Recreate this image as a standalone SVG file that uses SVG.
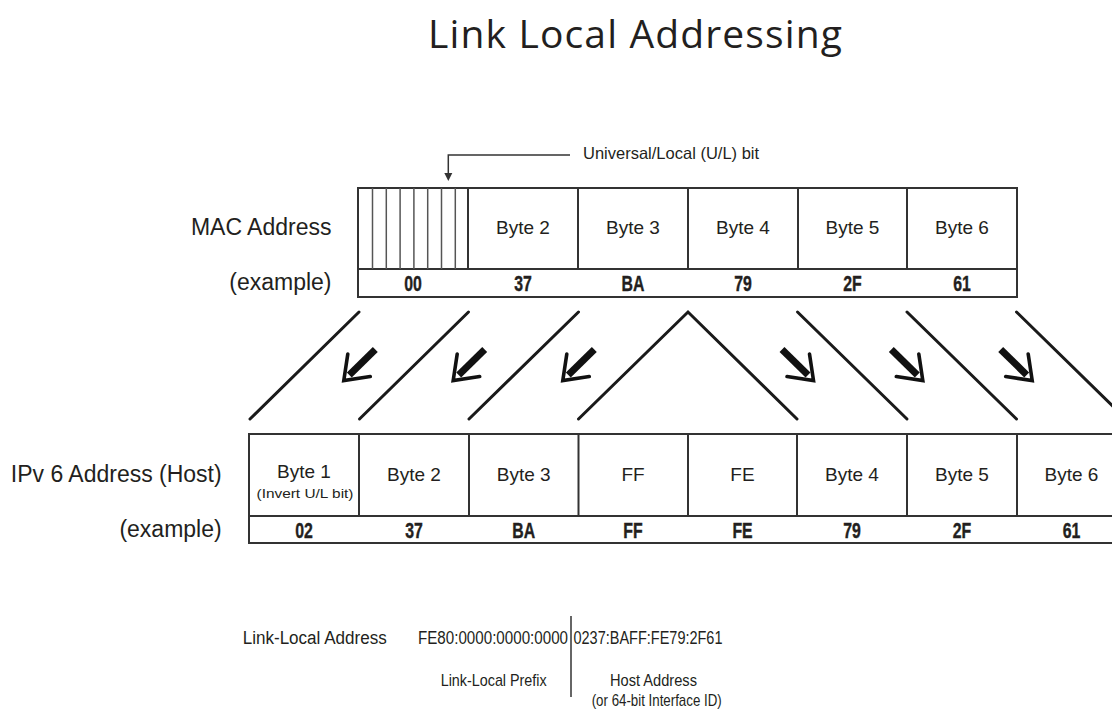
<svg xmlns="http://www.w3.org/2000/svg" xmlns:xlink="http://www.w3.org/1999/xlink" width="1112" height="709" viewBox="0 0 1112 709">
<style>
  .t { font-family: "Liberation Sans", Arial, sans-serif; fill: #231f20; }
  .lbl { font-size: 23px; text-anchor: end; }
  .cell { font-size: 19px; text-anchor: middle; }
  .val { font-family: "Liberation Sans", Arial, sans-serif; font-weight: bold; font-size: 22px; text-anchor: middle; fill: #231f20; stroke: #231f20; stroke-width: 0.4; }
  .box { fill: #fff; stroke: #333; stroke-width: 2; }
  .div { stroke: #333; stroke-width: 2; fill: none; }
  .stripe { stroke: #555; stroke-width: 1.5; }
  .diag { stroke: #1a1a1a; stroke-width: 3; fill: none; stroke-linecap: round; }
  .bot { font-size: 18px; }
  .bot2 { font-size: 17px; }
</style>
<defs>
  <g id="arrowL">
    <line x1="32" y1="-31.5" x2="6" y2="-6" stroke="#111" stroke-width="7"/>
    <polyline points="27,-4.5 0.5,-0.5 4.5,-27" fill="none" stroke="#111" stroke-width="3.6" stroke-linecap="round" stroke-linejoin="miter"/>
  </g>
</defs>
<rect width="1112" height="709" fill="#fff"/>

<g id="title">
  <text x="428" y="48" font-family="'Open Sans', 'Noto Sans', sans-serif" font-size="39" fill="#231f20" textLength="414" lengthAdjust="spacing">Link Local Addressing</text>
</g>

<g id="ul-callout">
  <polyline points="570,155 448.3,155 448.3,174" fill="none" stroke="#333" stroke-width="1.5"/>
  <polygon points="444.3,173 452.3,173 448.3,181" fill="#333"/>
  <text class="t" x="583" y="159" font-size="16.5">Universal/Local (U/L) bit</text>
</g>

<g id="mac-labels">
  <text class="t lbl" x="331.5" y="235">MAC Address</text>
  <text class="t lbl" x="331.5" y="290">(example)</text>
</g>

<g id="mac-address">
  <rect class="box" x="358" y="188" width="659" height="109"/>
  <line class="div" x1="358" y1="269" x2="1017" y2="269"/>
  <g class="stripes">
    <line class="stripe" x1="372.5" y1="188" x2="372.5" y2="269"/>
    <line class="stripe" x1="386.3" y1="188" x2="386.3" y2="269"/>
    <line class="stripe" x1="400.1" y1="188" x2="400.1" y2="269"/>
    <line class="stripe" x1="413.9" y1="188" x2="413.9" y2="269"/>
    <line class="stripe" x1="427.7" y1="188" x2="427.7" y2="269"/>
    <line class="stripe" x1="441.5" y1="188" x2="441.5" y2="269"/>
    <line class="stripe" x1="455.3" y1="188" x2="455.3" y2="269"/>
  </g>
  <line class="div" x1="468" y1="188" x2="468" y2="269"/>
  <line class="div" x1="578" y1="188" x2="578" y2="269"/>
  <line class="div" x1="688" y1="188" x2="688" y2="269"/>
  <line class="div" x1="798" y1="188" x2="798" y2="269"/>
  <line class="div" x1="907" y1="188" x2="907" y2="269"/>
  <text class="t cell" x="523" y="234">Byte 2</text>
  <text class="t cell" x="633" y="234">Byte 3</text>
  <text class="t cell" x="743" y="234">Byte 4</text>
  <text class="t cell" x="852.5" y="234">Byte 5</text>
  <text class="t cell" x="962" y="234">Byte 6</text>
  <text class="val" transform="translate(413,290.5) scale(0.72,1)">00</text>
  <text class="val" transform="translate(523,290.5) scale(0.72,1)">37</text>
  <text class="val" transform="translate(633,290.5) scale(0.72,1)">BA</text>
  <text class="val" transform="translate(743,290.5) scale(0.72,1)">79</text>
  <text class="val" transform="translate(852.5,290.5) scale(0.72,1)">2F</text>
  <text class="val" transform="translate(962,290.5) scale(0.72,1)">61</text>
</g>

<g id="connectors">
  <line class="diag" x1="359" y1="312" x2="250" y2="419"/>
  <line class="diag" x1="468.5" y1="312" x2="359.5" y2="419"/>
  <line class="diag" x1="578.5" y1="312" x2="469" y2="419"/>
  <polyline class="diag" points="578.5,419 688,312 797,419" stroke-linejoin="miter"/>
  <line class="diag" x1="797.5" y1="312" x2="907" y2="419"/>
  <line class="diag" x1="907" y1="312" x2="1016.5" y2="419"/>
  <line class="diag" x1="1016.5" y1="312" x2="1126" y2="419"/>
  <use xlink:href="#arrowL" transform="translate(343.3,381)"/>
  <use xlink:href="#arrowL" transform="translate(452.7,381)"/>
  <use xlink:href="#arrowL" transform="translate(562.3,381)"/>
  <use xlink:href="#arrowL" transform="translate(814,381) scale(-1,1)"/>
  <use xlink:href="#arrowL" transform="translate(923.3,381) scale(-1,1)"/>
  <use xlink:href="#arrowL" transform="translate(1032.7,381) scale(-1,1)"/>
</g>

<g id="ipv6-labels">
  <text class="t lbl" x="221.7" y="481.5">IPv 6 Address (Host)</text>
  <text class="t lbl" x="221.7" y="536.5">(example)</text>
</g>

<g id="ipv6-address">
  <rect class="box" x="249" y="434" width="877" height="109"/>
  <line class="div" x1="249" y1="516" x2="1126" y2="516"/>
  <line class="div" x1="359" y1="434" x2="359" y2="516"/>
  <line class="div" x1="469" y1="434" x2="469" y2="516"/>
  <line class="div" x1="578.5" y1="434" x2="578.5" y2="516"/>
  <line class="div" x1="688" y1="434" x2="688" y2="516"/>
  <line class="div" x1="797" y1="434" x2="797" y2="516"/>
  <line class="div" x1="907" y1="434" x2="907" y2="516"/>
  <line class="div" x1="1017" y1="434" x2="1017" y2="516"/>
  <text class="t cell" x="304" y="478">Byte 1</text>
  <text class="t" x="305" y="497.5" font-size="13" text-anchor="middle" textLength="97" lengthAdjust="spacingAndGlyphs">(Invert U/L bit)</text>
  <text class="t cell" x="414" y="481">Byte 2</text>
  <text class="t cell" x="523.75" y="481">Byte 3</text>
  <text class="t cell" x="633" y="481">FF</text>
  <text class="t cell" x="742.5" y="481">FE</text>
  <text class="t cell" x="852" y="481">Byte 4</text>
  <text class="t cell" x="962" y="481">Byte 5</text>
  <text class="t cell" x="1071.5" y="481">Byte 6</text>
  <text class="val" transform="translate(304,537.5) scale(0.72,1)">02</text>
  <text class="val" transform="translate(414,537.5) scale(0.72,1)">37</text>
  <text class="val" transform="translate(523.75,537.5) scale(0.72,1)">BA</text>
  <text class="val" transform="translate(633,537.5) scale(0.72,1)">FF</text>
  <text class="val" transform="translate(742.5,537.5) scale(0.72,1)">FE</text>
  <text class="val" transform="translate(852,537.5) scale(0.72,1)">79</text>
  <text class="val" transform="translate(962,537.5) scale(0.72,1)">2F</text>
  <text class="val" transform="translate(1071.5,537.5) scale(0.72,1)">61</text>
</g>

<g id="link-local">
  <text class="t bot" x="242.7" y="644" textLength="144" lengthAdjust="spacingAndGlyphs">Link-Local Address</text>
  <text class="t bot" x="418" y="644" textLength="150" lengthAdjust="spacingAndGlyphs">FE80:0000:0000:0000</text>
  <line x1="571" y1="616" x2="571" y2="697" stroke="#333" stroke-width="1.5"/>
  <text class="t bot" x="573.5" y="644" textLength="149" lengthAdjust="spacingAndGlyphs">0237:BAFF:FE79:2F61</text>
  <text class="t bot2" x="440.7" y="686" textLength="106" lengthAdjust="spacingAndGlyphs">Link-Local Prefix</text>
  <text class="t bot2" x="610" y="686" textLength="87" lengthAdjust="spacingAndGlyphs">Host Address</text>
  <text class="t bot2" x="591.7" y="705.5" textLength="130" lengthAdjust="spacingAndGlyphs">(or 64-bit Interface ID)</text>
</g>
</svg>
